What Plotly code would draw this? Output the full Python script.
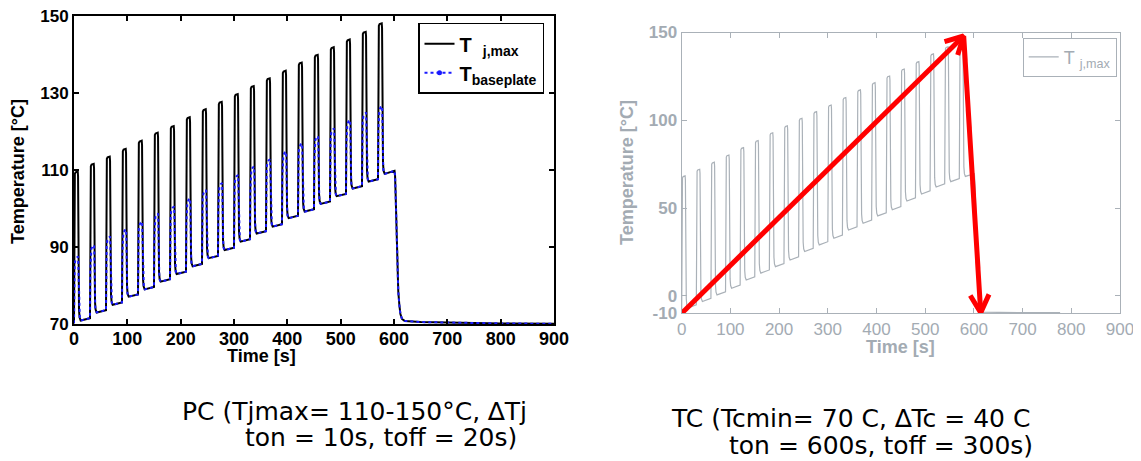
import math
import plotly.graph_objects as go

# The page body adds an 8px margin, so the figure is made 8px smaller and all
# target pixel positions are shifted by that offset.
OFF = 8
W, H = 1141 - OFF, 461 - OFF

# ---------------- data ----------------
# Left chart (power cycling): 20 cycles of 30 s
pc_cycle_start = [0, 30, 60, 90, 120, 150, 180, 210, 240, 270,
                  300, 330, 360, 390, 420, 450, 480, 510, 540, 570]
pc_tj_peak = [109.6, 111.6, 113.5, 115.5, 117.6, 119.7, 121.4, 123.7, 125.8, 127.7,
              129.7, 131.8, 133.8, 135.8, 137.9, 139.9, 141.9, 143.9, 145.9, 148.1]
pc_valley = [70.9, 73.0, 75.0, 77.1, 79.0, 81.0, 83.0, 85.0, 87.1, 89.2,
             91.4, 93.5, 95.3, 97.5, 99.2, 101.2, 103.2, 105.2, 107.0, 109.0]
pc_tb_peak = [87.5, 90.5, 92.7, 94.6, 96.6, 98.7, 100.5, 102.6, 104.8, 106.6,
              108.7, 110.9, 112.8, 114.8, 116.9, 118.8, 120.8, 123.0, 124.9, 126.6]
pc_start_level = 70.2
pc_tail_t = [601, 602, 603, 604, 605, 606, 607, 608, 610, 612, 615, 620, 650, 700, 800, 900]
pc_tail_val = [109.8, 108.5, 104, 98, 92, 86.5, 82, 78.5, 75, 72.6, 71.3, 70.8, 70.5, 70.35, 70.15, 70.05]

# Right chart (thermal cycling)
tc_cycle_start = [0, 30, 60, 90, 120, 150, 180, 210, 240, 270,
                  300, 330, 360, 390, 420, 450, 480, 510, 540, 570]
tc_peak = [68.3, 72.1, 76.1, 80.2, 84.4, 88.4, 92.9, 96.8, 101.1, 104.9,
           108.7, 112.9, 117.3, 121.4, 125.2, 129.2, 133.4, 137.8, 141.9, 146.0]
tc_valley = [-7.0, -3.3, 0.5, 4.3, 9.0, 12.9, 16.6, 20.4, 25.2, 29.0,
             32.8, 37.5, 41.3, 45.5, 49.0, 54.0, 58.0, 62.0, 65.0, 68.0]
tc_start_level = -8.5
tc_tail_t = [601, 603, 605, 607, 609, 611, 614, 650, 700, 777]
tc_tail_val = [69.5, 60, 40, 20, 5, -5, -9.3, -9.5, -9.6, -9.6]

# red arrows (time [s], temperature [°C])
arrow_path_t = [0, 579, 614]
arrow_path_v = [-10, 148, -9.6]

# tick labels
pc_xticks = [0, 100, 200, 300, 400, 500, 600, 700, 800, 900]
pc_yticks = [70, 90, 110, 130, 150]
tc_xticks = [0, 100, 200, 300, 400, 500, 600, 700, 800, 900]
tc_yticks = [-10, 0, 50, 100, 150]
tc_yticktext = ["-10", "0", "50", "100", "150"]

# ---------------- cycle shape templates (time offsets inside a cycle) ----------------
RISE_TAU = [0, 0.4, 0.9, 1.6, 3.0, 7.0]
RISE_FRAC = [0, 0.75, 0.95, 0.985, 0.995, 1.0]
FALL_TAU = [7.6, 8.1, 8.6, 9.4, 10.5, 12.5]
FALL_FRAC = [0.97, 0.5, 0.2, 0.07, 0.02, 0.0]
B_RISE_TAU = [0, 0.6, 1.3, 2.6, 5.0, 7.7]
B_RISE_FRAC = [0, 0.65, 0.88, 0.95, 0.985, 1.0]
B_FALL_TAU = [8.2, 8.7, 9.2, 9.9, 11.0, 12.8]
B_FALL_FRAC = [0.85, 0.45, 0.2, 0.07, 0.02, 0.0]


def build(starts, s0, peaks, valleys, low_rise, rt, rf, ft, ff):
    ts, vs = [], []
    s = s0
    for t0, p, v in zip(starts, peaks, valleys):
        for tau, f in zip(rt, rf):
            ts.append(t0 + tau)
            vs.append(s + f * (p - s))
        for tau, f in zip(ft, ff):
            ts.append(t0 + tau)
            vs.append(v + f * (p - v))
        s = v + low_rise
    return ts, vs


tj_t, tj_v = build(pc_cycle_start, pc_start_level, pc_tj_peak, pc_valley, 0.6,
                   RISE_TAU, RISE_FRAC, FALL_TAU, FALL_FRAC)
tj_t += pc_tail_t
tj_v += pc_tail_val
tb_t, tb_v = build(pc_cycle_start, pc_start_level, pc_tb_peak, pc_valley, 0.6,
                   B_RISE_TAU, B_RISE_FRAC, B_FALL_TAU, B_FALL_FRAC)
tb_t += pc_tail_t
tb_v += pc_tail_val
tc_t, tc_v = build(tc_cycle_start, tc_start_level, tc_peak, tc_valley, 1.8,
                   RISE_TAU, RISE_FRAC, FALL_TAU, FALL_FRAC)
tc_t += tc_tail_t
tc_v += tc_tail_val


def px(x):
    return (x - OFF) / W


def py(y):
    return (H - (y - OFF)) / H


# plot areas in screen pixels
L_x0, L_x1, L_y0, L_y1 = 74, 554, 16, 324
R_x0, R_x1, R_y0, R_y1 = 681.7, 1120, 32.5, 313.3

fig = go.Figure()

fig.add_trace(go.Scatter(x=tj_t, y=tj_v, mode="lines", line=dict(color="black", width=2),
                         name="T\u00a0\u00a0<sub>j,max</sub>", xaxis="x", yaxis="y",
                         legend="legend"))
fig.add_trace(go.Scatter(x=tb_t, y=tb_v, mode="lines", line=dict(color="#1a1aff", width=2, dash="dot"),
                         name="T<sub>baseplate</sub>", xaxis="x", yaxis="y", showlegend=False))
fig.add_trace(go.Scatter(x=[None], y=[None], mode="lines+markers",
                         line=dict(color="#1a1aff", width=2, dash="dot"),
                         marker=dict(color="#1a1aff", size=5),
                         name="T<sub>baseplate</sub>", xaxis="x", yaxis="y", legend="legend"))

GRAY_LINE = "#aab1b8"
fig.add_trace(go.Scatter(x=tc_t, y=tc_v, mode="lines", line=dict(color=GRAY_LINE, width=1.2),
                         name="T\u00a0<sub>j,max</sub>", xaxis="x2", yaxis="y2", legend="legend2"))

# red arrows with open chevron heads
xs = (R_x1 - R_x0) / 900.0
ys = (R_y1 - R_y0) / 160.0
for i in range(len(arrow_path_t) - 1):
    ta, va = arrow_path_t[i], arrow_path_v[i]
    tb_, vb = arrow_path_t[i + 1], arrow_path_v[i + 1]
    dxp = (tb_ - ta) * xs
    dyp = (vb - va) * ys
    ang = math.atan2(dyp, dxp)
    arm_t, arm_v = [], []
    for sgn in (1, -1):
        a = ang + math.pi + sgn * math.radians(28)
        arm_t.append(tb_ + 20 * math.cos(a) / xs)
        arm_v.append(vb + 20 * math.sin(a) / ys)
    fig.add_trace(go.Scatter(x=[ta, tb_, None, arm_t[0], tb_, arm_t[1]],
                             y=[va, vb, None, arm_v[0], vb, arm_v[1]],
                             mode="lines", line=dict(color="#ff0000", width=5),
                             showlegend=False, xaxis="x2", yaxis="y2", hoverinfo="skip"))

BOLD = dict(family="Liberation Sans, Arial", size=18, color="black", weight="bold")
BOLD_Y = dict(family="Liberation Sans, Arial", size=17, color="black", weight="bold")
GRAY_TXT = "#a3abb3"

fig.update_layout(
    width=W, height=H, autosize=False,
    margin=dict(l=0, r=0, t=0, b=0, pad=0, autoexpand=False),
    paper_bgcolor="white", plot_bgcolor="white",
    xaxis=dict(domain=[px(L_x0), px(L_x1)], range=[0, 900], tickvals=pc_xticks,
               ticktext=[str(v) for v in pc_xticks], ticks="inside", ticklen=5, tickwidth=1.5,
               tickcolor="black", showline=True, linecolor="black", linewidth=2, mirror="ticks",
               showgrid=False, zeroline=False, tickfont=BOLD, anchor="y", automargin=False,
               ticklabeloverflow="allow", ticklabelstandoff=-3),
    yaxis=dict(domain=[py(L_y1), py(L_y0)], range=[70, 150], tickvals=pc_yticks,
               ticktext=[str(v) for v in pc_yticks], ticks="inside", ticklen=5, tickwidth=1.5,
               tickcolor="black", showline=True, linecolor="black", linewidth=2, mirror="ticks",
               showgrid=False, zeroline=False, tickfont=BOLD_Y, anchor="x", automargin=False,
               ticklabeloverflow="allow"),
    xaxis2=dict(domain=[px(R_x0), px(R_x1)], range=[0, 900], tickvals=tc_xticks,
                ticktext=[str(v) for v in tc_xticks], ticks="inside", ticklen=5, tickwidth=1,
                tickcolor=GRAY_LINE, showline=True, linecolor=GRAY_LINE, linewidth=1.2, mirror="ticks",
                showgrid=False, zeroline=False, automargin=False, ticklabeloverflow="allow",
                tickfont=dict(family="Liberation Sans, Arial", size=17, color=GRAY_TXT), anchor="y2"),
    yaxis2=dict(domain=[py(R_y1), py(R_y0)], range=[-10, 150], tickvals=tc_yticks,
                ticktext=tc_yticktext, ticks="inside", ticklen=5, tickwidth=1,
                tickcolor=GRAY_LINE, showline=True, linecolor=GRAY_LINE, linewidth=1.2, mirror="ticks",
                showgrid=False, zeroline=False, automargin=False, ticklabeloverflow="allow",
                tickfont=dict(family="Liberation Sans, Arial", size=17, color=GRAY_TXT, weight="bold"),
                anchor="x2"),
    legend=dict(x=px(418), y=py(22.7), xanchor="left", yanchor="top",
                bgcolor="white", bordercolor="black", borderwidth=1.5,
                font=dict(family="Liberation Sans, Arial", size=20, color="black", weight="bold"),
                itemwidth=30, tracegroupgap=0),
    legend2=dict(x=px(1022.7), y=py(37.7), xanchor="left", yanchor="top",
                 bgcolor="white", bordercolor=GRAY_LINE, borderwidth=1,
                 font=dict(family="Liberation Sans, Arial", size=18, color=GRAY_TXT),
                 itemwidth=30),
    showlegend=True,
)

ann = []
ann.append(dict(x=px(18), y=py(172), xref="paper", yref="paper", text="Temperature [°C]",
                textangle=-90, showarrow=False, xanchor="center", yanchor="middle",
                font=dict(family="Liberation Sans, Arial", size=18, color="black", weight="bold")))
ann.append(dict(x=px(261), y=py(356), xref="paper", yref="paper", text="Time [s]",
                showarrow=False, xanchor="center", yanchor="middle",
                font=dict(family="Liberation Sans, Arial", size=18, color="black", weight="bold")))
ann.append(dict(x=px(627), y=py(172), xref="paper", yref="paper", text="Temperature [°C]",
                textangle=-90, showarrow=False, xanchor="center", yanchor="middle",
                font=dict(family="Liberation Sans, Arial", size=18, color=GRAY_TXT, weight="bold")))
ann.append(dict(x=px(900), y=py(347), xref="paper", yref="paper", text="Time [s]",
                showarrow=False, xanchor="center", yanchor="middle",
                font=dict(family="Liberation Sans, Arial", size=18, color=GRAY_TXT, weight="bold")))

CAP = dict(family="DejaVu Sans, Verdana", size=25, color="black")
captions = [
    ("PC (Tjmax= 110-150°C, ∆Tj", 180, 411),
    ("ton = 10s, toff = 20s)", 243, 437),
    ("TC (Tcmin= 70 C, ∆Tc = 40 C", 669, 418),
    ("ton = 600s, toff = 300s)", 727, 445),
]
for txt, x, y in captions:
    ann.append(dict(x=px(x), y=py(y), xref="paper", yref="paper", text=txt, showarrow=False,
                    xanchor="left", yanchor="middle", font=CAP))

fig.update_layout(annotations=ann)
fig.write_html("out.html")
